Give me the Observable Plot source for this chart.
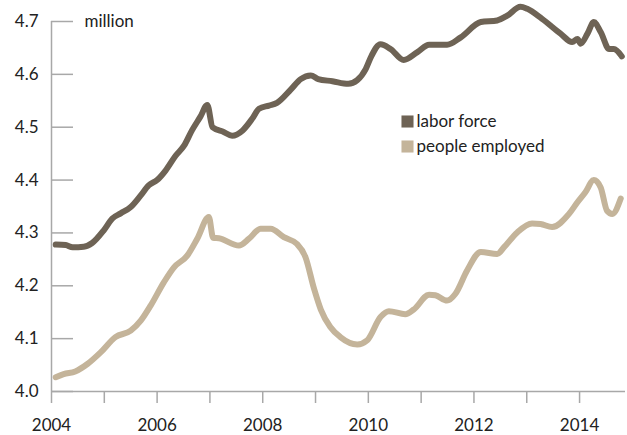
<!DOCTYPE html>
<html>
<head>
<meta charset="utf-8">
<script src="https://cdn.jsdelivr.net/npm/d3@7"></script>
<script src="https://cdn.jsdelivr.net/npm/@observablehq/plot@0.6"></script>
<style>
  body { margin: 0; background: #fff; }
  #chart svg { display: block; }
</style>
</head>
<body>
<div id="chart"></div>
<script>
const laborYears = [2004.08, 2004.27, 2004.40, 2004.61, 2004.77, 2004.99, 2005.15, 2005.31, 2005.50, 2005.69,
  2005.84, 2006.00, 2006.16, 2006.35, 2006.51, 2006.66, 2006.82, 2006.95, 2007.05, 2007.26,
  2007.42, 2007.62, 2007.80, 2007.93, 2008.12, 2008.27, 2008.53, 2008.72, 2008.91, 2009.05,
  2009.32, 2009.62, 2009.79, 2009.95, 2010.06, 2010.23, 2010.42, 2010.67, 2010.93, 2011.15,
  2011.49, 2011.75, 2012.13, 2012.44, 2012.63, 2012.88, 2013.01, 2013.29, 2013.64, 2013.86,
  2013.96, 2014.02, 2014.15, 2014.27, 2014.40, 2014.56, 2014.65, 2014.80];
const laborValues = [4.278, 4.277, 4.273, 4.274, 4.281, 4.305, 4.327, 4.337, 4.349, 4.371,
  4.390, 4.400, 4.418, 4.446, 4.465, 4.494, 4.520, 4.542, 4.500, 4.491,
  4.484, 4.494, 4.516, 4.535, 4.541, 4.546, 4.571, 4.591, 4.598, 4.591,
  4.587, 4.582, 4.589, 4.610, 4.635, 4.657, 4.648, 4.627, 4.642, 4.656,
  4.656, 4.670, 4.699, 4.702, 4.711, 4.728, 4.724, 4.705, 4.677, 4.661,
  4.667, 4.658, 4.677, 4.699, 4.680, 4.648, 4.648, 4.634];

const employedYears = [2004.08, 2004.23, 2004.45, 2004.68, 2004.93, 2005.21, 2005.50, 2005.69, 2005.88, 2006.13,
  2006.32, 2006.57, 2006.76, 2006.98, 2007.06, 2007.17, 2007.55, 2007.74, 2007.96, 2008.15,
  2008.40, 2008.65, 2008.81, 2008.97, 2009.10, 2009.28, 2009.47, 2009.79, 2009.98, 2010.23,
  2010.39, 2010.70, 2010.86, 2011.15, 2011.27, 2011.49, 2011.65, 2011.87, 2012.13, 2012.44,
  2012.57, 2012.82, 2013.10, 2013.26, 2013.48, 2013.80, 2013.96, 2014.11, 2014.27, 2014.40,
  2014.52, 2014.62, 2014.78];
const employedValues = [4.027, 4.033, 4.038, 4.052, 4.074, 4.103, 4.115, 4.134, 4.163, 4.207,
  4.235, 4.257, 4.289, 4.330, 4.291, 4.290, 4.276, 4.289, 4.308, 4.308,
  4.292, 4.279, 4.254, 4.195, 4.155, 4.122, 4.103, 4.089, 4.097, 4.141,
  4.152, 4.146, 4.155, 4.183, 4.182, 4.172, 4.185, 4.229, 4.264, 4.260,
  4.273, 4.301, 4.318, 4.317, 4.311, 4.336, 4.358, 4.377, 4.400, 4.386,
  4.342, 4.336, 4.365];

const seriesNames = ["labor force", "people employed"];
const seriesColors = ["#6e6355", "#c4b49a"];
const yTicks = [4.0, 4.1, 4.2, 4.3, 4.4, 4.5, 4.6, 4.7];
const xTicks = [2004, 2005, 2006, 2007, 2008, 2009, 2010, 2011, 2012, 2013, 2014];
const xLabelTicks = [2004, 2006, 2008, 2010, 2012, 2014];
const unitLabel = "million";

const labor = laborYears.map((x, i) => ({x, v: laborValues[i], s: seriesNames[0]}));
const employed = employedYears.map((x, i) => ({x, v: employedValues[i], s: seriesNames[1]}));

const axisGray = "#a8a8a8";

const legendMarks = seriesNames.flatMap((name, i) => [
  Plot.dot([name], {frameAnchor: "top-left", dx: 356, dy: 100 + i * 25, symbol: "square", r: 6.8, fill: seriesColors[i], stroke: null}),
  Plot.text([name], {frameAnchor: "top-left", dx: 365, dy: 100 + i * 25, text: d => d, textAnchor: "start", lineAnchor: "middle", fill: "#222"})
]);

const chart = Plot.plot({
  width: 627,
  height: 435,
  marginLeft: 51,
  marginRight: 2,
  marginTop: 21,
  marginBottom: 44,
  style: {fontFamily: "Lato, 'Open Sans', sans-serif", fontSize: "17px", color: "#222", background: "#fff"},
  x: {domain: [2004, 2014.87], label: null},
  y: {domain: [4.0, 4.7], label: null},
  marks: [
    Plot.axisY(yTicks, {tickSize: 22, dx: 22, fill: "none", stroke: axisGray, strokeWidth: 1.5, label: null}),
    Plot.axisY(yTicks, {tickSize: 0, tickPadding: 13, tickFormat: d3.format(".1f"), fill: "#222", label: null}),
    Plot.axisX(xTicks, {tickSize: 12, fill: "none", stroke: axisGray, strokeWidth: 1.5, label: null}),
    Plot.axisX(xLabelTicks, {tickSize: 0, tickPadding: 27, tickFormat: d => String(d), fill: "#222", label: null}),
    Plot.ruleX([2004], {y1: 4.0, y2: 4.7, stroke: axisGray, strokeWidth: 1.5}),
    Plot.ruleY([4.0], {stroke: axisGray, strokeWidth: 1.5}),
    Plot.line(employed, {x: "x", y: "v", stroke: seriesColors[1], strokeWidth: 6, curve: "monotone-x", strokeLinecap: "round", strokeLinejoin: "round"}),
    Plot.line(labor, {x: "x", y: "v", stroke: seriesColors[0], strokeWidth: 6, curve: "monotone-x", strokeLinecap: "round", strokeLinejoin: "round"}),
    Plot.text([unitLabel], {frameAnchor: "top-left", dx: 33, text: d => d, textAnchor: "start", lineAnchor: "middle", fill: "#222"}),
    ...legendMarks
  ]
});
document.getElementById("chart").appendChild(chart);
</script>
</body>
</html>
